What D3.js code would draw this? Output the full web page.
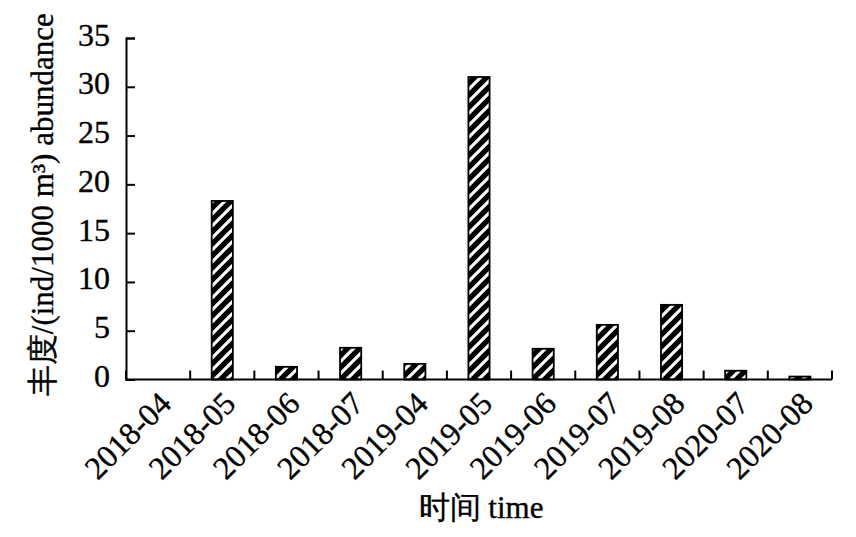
<!DOCTYPE html>
<html>
<head>
<meta charset="utf-8">
<script src="https://cdn.jsdelivr.net/npm/d3@7"></script>
<style>
html,body{margin:0;padding:0;background:#fff;}
svg{display:block;}
text{font-family:"Liberation Serif","Times New Roman",serif;fill:#000;stroke:#000;stroke-width:0.35px;}
</style>
</head>
<body>
<svg id="chart" width="856" height="537"></svg>
<script>
const categories = ["2018-04","2018-05","2018-06","2018-07","2019-04","2019-05","2019-06","2019-07","2019-08","2020-07","2020-08"];
const abundance = [0, 18.3, 1.3, 3.25, 1.6, 31.0, 3.15, 5.6, 7.65, 0.9, 0.3];
const yTicks = [0, 5, 10, 15, 20, 25, 30, 35];
const yTitle = "丰度/(ind/1000 m³) abundance";
const xTitle = "时间 time";

(function () {
const svg = d3.select("#chart");
const mLeft = 126, mRight = 832, mTop = 38, mBottom = 379.5;
const FF = "Liberation Serif";

const x = d3.scaleBand().domain(categories).range([mLeft, mRight]).paddingInner(0).paddingOuter(0);
const y = d3.scaleLinear().domain([0, 35]).range([mBottom, mTop]);

// stripe pattern
const P = 12;
const defs = svg.append("defs");
const pat = defs.append("pattern")
  .attr("id", "stripes")
  .attr("patternUnits", "userSpaceOnUse")
  .attr("width", P).attr("height", P);
pat.append("rect").attr("width", P).attr("height", P).attr("fill", "#fff");
pat.append("path")
  .attr("d", `M0,${P} L${P},0 M${-P/2},${P/2} L${P/2},${-P/2} M${P/2},${P*1.5} L${P*1.5},${P/2}`)
  .attr("stroke", "#000").attr("stroke-width", 5.4);

const bw = x.bandwidth() * 0.33;
svg.append("g").selectAll("rect")
  .data(categories.map((c, i) => ({c, v: abundance[i]})).filter(d => d.v > 0))
  .join("rect")
  .attr("x", d => x(d.c) + (x.bandwidth() - bw) / 2)
  .attr("y", d => y(d.v))
  .attr("width", bw)
  .attr("height", d => y(0) - y(d.v))
  .attr("fill", "url(#stripes)")
  .attr("stroke", "#000")
  .attr("stroke-width", 1.8);

// y axis
const yAxis = d3.axisLeft(y).tickValues(yTicks).tickSize(-9).tickPadding(16).tickFormat(d3.format("d"));
const gy = svg.append("g").attr("transform", `translate(${mLeft},0)`).call(yAxis);
gy.attr("font-family", FF);
gy.select(".domain").attr("stroke", "#000").attr("stroke-width", 2);
gy.selectAll(".tick line").attr("stroke", "#000").attr("stroke-width", 2);
gy.selectAll(".tick text").attr("font-size", 32).attr("font-family", FF).attr("dy", "0.22em");

// x axis
const gx = svg.append("g").attr("transform", `translate(0,${mBottom})`);
gx.append("line").attr("x1", mLeft).attr("x2", mRight).attr("y1", 0).attr("y2", 0)
  .attr("stroke", "#000").attr("stroke-width", 2);
const bounds = categories.map(c => x(c)).concat([mRight]);
gx.selectAll("line.tk").data(bounds).join("line").attr("class", "tk")
  .attr("x1", d => d).attr("x2", d => d).attr("y1", 0).attr("y2", -9)
  .attr("stroke", "#000").attr("stroke-width", 2);
gx.selectAll("text").data(categories).join("text")
  .attr("transform", d => `translate(${x(d) + x.bandwidth() / 2 + 15},${26}) rotate(-45)`)
  .attr("text-anchor", "end")
  .attr("font-family", FF)
  .attr("font-size", 32)
  .text(d => d);

// titles
svg.append("text")
  .attr("transform", `translate(53,${(mTop + mBottom) / 2 - 4}) rotate(-90)`)
  .attr("text-anchor", "middle")
  .attr("font-family", FF)
  .attr("font-size", 31)
  .text(yTitle);
svg.append("text")
  .attr("x", (mLeft + mRight) / 2 + 2)
  .attr("y", 518)
  .attr("text-anchor", "middle")
  .attr("font-family", FF)
  .attr("font-size", 31)
  .text(xTitle);
})();
</script>
</body>
</html>
